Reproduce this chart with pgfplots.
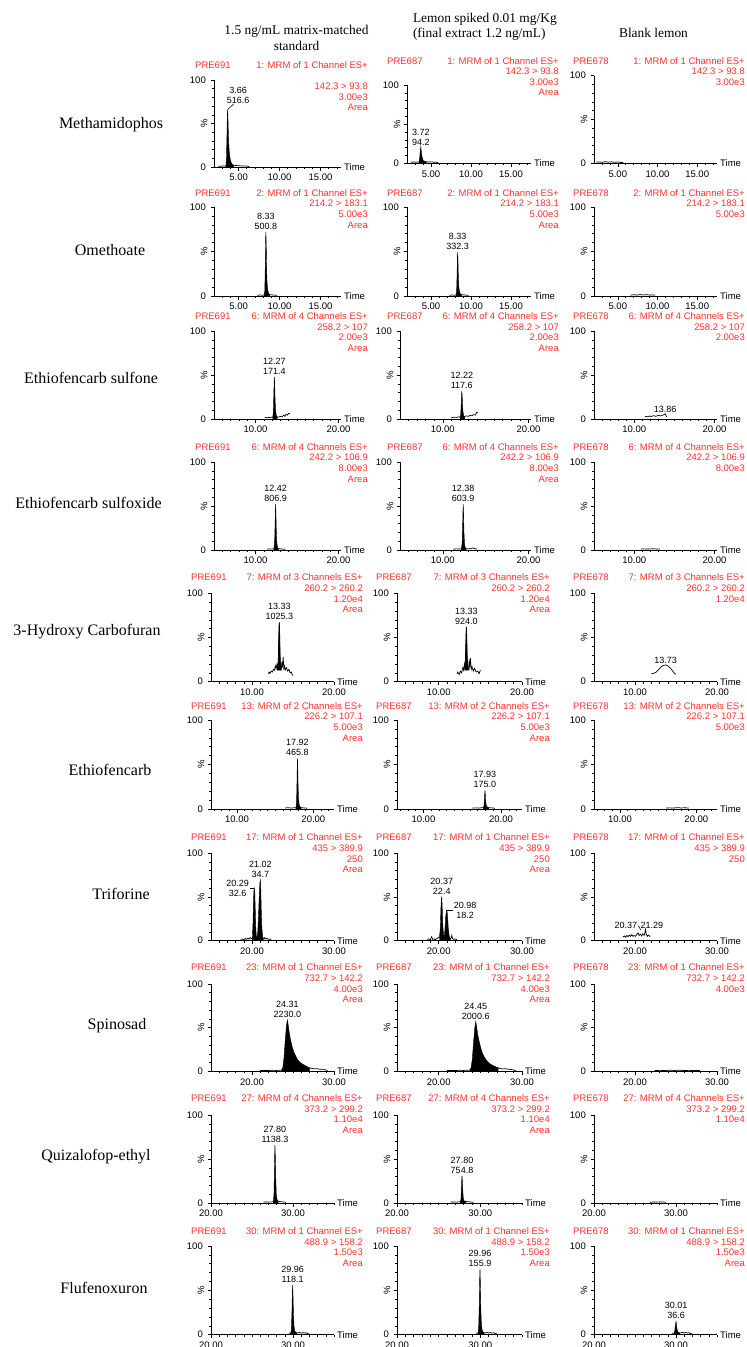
\documentclass[border=0pt]{standalone}
\usepackage{fontspec}
\setmainfont{Liberation Sans}
\newfontfamily\seriffont{Liberation Serif}
\usepackage{pgfplots}
\pgfplotsset{compat=1.18}

\definecolor{mlred}{RGB}{255,48,48}
\newcommand\cf{\fontsize{9.5}{10.6}\selectfont}
\newcommand\pf{\fontsize{9}{10}\selectfont}
\newcommand\nf{\seriffont\fontsize{16}{18}\selectfont}
\newcommand\hf{\seriffont\fontsize{13.4}{15.5}\selectfont}

\tikzset{
  hdr/.style={font=\cf, text=mlred, inner sep=0pt},
  plab/.style={font=\pf, align=center, inner sep=0.5pt},
  lead/.style={black, line width=0.5pt},
}

\pgfplotsset{
  chrom/.style={
    scale only axis, clip=false,
    axis x line*=bottom, axis y line*=left,
    axis line style={-, line width=0.8pt},
    ymin=0, ymax=100,
    ytick={0,50,100}, yticklabels={0,,100},
    minor ytick={10,20,30,40,60,70,80,90},
    tick align=outside,
    major tick length=3.5pt, minor tick length=2pt,
    every tick/.style={line width=0.6pt, black},
    tick label style={font=\cf, inner sep=0pt},
    xticklabel style={yshift=-3.6pt},
    yticklabel style={xshift=-4.5pt},
    extra description/.code={
      \node[font=\cf, rotate=90, inner sep=0pt] at ([xshift=-10pt]rel axis cs:0,0.5) {\%};
      \node[font=\cf, anchor=base west, inner sep=0pt] at ([xshift=3pt,yshift=-3.5pt]rel axis cs:1,0) {Time};
    },
  },
  r12/.style={xmin=2, xmax=17.5, xtick={5,10,15}, xticklabels={5.00,10.00,15.00}, minor xtick={3,...,17}},
  r34/.style={xmin=5, xmax=20.3, xtick={10,20}, xticklabels={10.00,20.00}, minor xtick={6,...,19}},
  r5/.style={xmin=5, xmax=20, xtick={10,20}, xticklabels={10.00,20.00}, minor xtick={6,...,19}},
  r6/.style={xmin=6.6, xmax=22.7, xtick={10,20}, xticklabels={10.00,20.00}, minor xtick={7,...,22}},
  r78/.style={xmin=15, xmax=30, xtick={20,30}, xticklabels={20.00,30.00}, minor xtick={16,...,29}},
  r910/.style={xmin=20, xmax=35, xtick={20,30}, xticklabels={20.00,30.00}, minor xtick={21,...,35}},
  trace/.style={black, line width=0.7pt, mark=none},
  peak/.style={black, fill=black, line width=0.4pt, mark=none},
}

% red acquisition header above a chromatogram
\newcommand\Hdr[9]{%
  \node[hdr, anchor=base west] at (#1,{-(#3+3.4)}) {#5};
  \node[hdr, anchor=base east] at (#2,{-(#3+3.4)}) {#6};
  \node[hdr, anchor=base east] at (#2,{-(#4+3.4)}) {#7};
  \node[hdr, anchor=base east] at (#2,{-(#4+14.0)}) {#8};
  \node[hdr, anchor=base east] at (#2,{-(#4+24.6)}) {#9};
}

% one chromatogram: left x, right x, y of 100 %, y of 0 %, x options, plots
\newcommand\Panel[6]{%
  \pgfmathsetmacro\pw{#2-#1}\pgfmathsetmacro\ph{#4-#3}%
  \begin{axis}[chrom,#5,at={(#1pt,-#4pt)},anchor=south west,width=\pw pt,height=\ph pt]
  #6
  \end{axis}}

\begin{document}
\begin{tikzpicture}[x=1pt,y=1pt]
\path[use as bounding box] (0,0) rectangle (747,-1347);

% column headings
\node[font=\hf, anchor=base] at (296.5,-34.4) {1.5 ng/mL matrix-matched};
\node[font=\hf, anchor=base] at (296.5,-50) {standard};
\node[font=\hf, anchor=base west] at (409.5,-22.7) {Lemon spiked 0.01 mg/Kg};
\node[font=\hf, anchor=base west] at (409.5,-37.7) {(final extract 1.2 ng/mL)};
\node[font=\hf, anchor=base] at (653.5,-37.7) {Blank lemon};

% compound names
\node[font=\nf] at (111,-125) {Methamidophos};
\node[font=\nf] at (110,-250) {Omethoate};
\node[font=\nf] at (91,-378) {Ethiofencarb sulfone};
\node[font=\nf] at (88.5,-503) {Ethiofencarb sulfoxide};
\node[font=\nf] at (87,-632) {3-Hydroxy Carbofuran};
\node[font=\nf] at (110,-770) {Ethiofencarb};
\node[font=\nf] at (121,-894) {Triforine};
\node[font=\nf] at (117,-1026) {Spinosad};
\node[font=\nf] at (96,-1157) {Quizalofop-ethyl};
\node[font=\nf] at (104,-1288) {Flufenoxuron};

% ---------------- Methamidophos
\Hdr{195}{368}{65}{86}{PRE691}{1: MRM of 1 Channel ES+}{142.3 > 93.8}{3.00e3}{Area}
\Hdr{387}{559}{61}{71}{PRE687}{1: MRM of 1 Channel ES+}{142.3 > 93.8}{3.00e3}{Area}
\Hdr{573}{745}{61}{71}{PRE678}{1: MRM of 1 Channel ES+}{142.3 > 93.8}{3.00e3}{}
\Panel{214}{341}{80}{167}{r12}{
  \addplot[trace] coordinates {(2.5,1.0)(2.8,0.8)(3.1,1.2)(3.3,1.0)(3.45,1.2)(4.4,2)(4.7,1.7)(5.0,1.5)(5.4,1.2)(5.8,1.3)(6.1,0.9)(6.3,0.5)};
  \addplot[peak] coordinates {(3.45,1.2)(3.52,10)(3.58,35)(3.63,62)(3.66,66)(3.70,58)(3.75,40)(3.80,27)(3.86,18)(3.93,12)(4.0,8)(4.1,5)(4.25,3)(4.4,2)} \closedcycle;
  \draw[lead] (axis cs:3.66,66) -- (axis cs:4.4,72.5);
  \node[plab, anchor=south] at (axis cs:4.95,72.5) {3.66\\516.6};
}
\Panel{407}{531}{85}{163.3}{r12}{
  \addplot[trace] coordinates {(2.5,1.6)(2.7,1.2)(2.9,1.8)(3.1,1.3)(3.3,1.7)(3.5,1.5)(4.4,2)(4.7,1.6)(5.0,1.9)(5.3,1.4)(5.6,1.5)(5.9,0.8)};
  \addplot[peak] coordinates {(3.5,1.5)(3.58,6)(3.65,15)(3.72,21)(3.78,16)(3.85,10)(3.93,6)(4.05,3.5)(4.2,2.5)(4.4,2)} \closedcycle;
  \node[plab, anchor=south] at (axis cs:3.72,22) {3.72\\94.2};
}
\Panel{594}{717}{75.7}{163.3}{r12}{
  \addplot[trace] coordinates {(2.3,1.2)(2.7,1.6)(3.0,1.1)(3.4,1.8)(3.8,1.3)(4.2,1.7)(4.6,1.1)(5.0,1.5)(5.4,0.9)(5.7,1.1)};
}

% ---------------- Omethoate
\Hdr{195}{368}{193}{203.5}{PRE691}{2: MRM of 1 Channel ES+}{214.2 > 183.1}{5.00e3}{Area}
\Hdr{387}{559}{193}{203.5}{PRE687}{2: MRM of 1 Channel ES+}{214.2 > 183.1}{5.00e3}{Area}
\Hdr{573}{745}{193}{203.5}{PRE678}{2: MRM of 1 Channel ES+}{214.2 > 183.1}{5.00e3}{}
\Panel{214}{341}{207}{296}{r12}{
  \addplot[trace] coordinates {(7.3,0.8)(7.6,1.1)(7.9,0.9)(8.12,1.2)(8.8,1.5)(9.1,1.2)(9.4,1.0)(9.7,0.7)};
  \addplot[peak] coordinates {(8.12,1.2)(8.2,6)(8.26,35)(8.30,65)(8.33,72)(8.37,60)(8.42,30)(8.48,14)(8.56,7)(8.66,3)(8.8,1.5)} \closedcycle;
  \node[plab, anchor=south] at (axis cs:8.33,74) {8.33\\500.8};
}
\Panel{407}{531}{207}{296}{r12}{
  \addplot[trace] coordinates {(7.3,0.8)(7.6,1.1)(7.9,0.9)(8.12,1.2)(8.8,1.5)(9.1,1.2)(9.4,1.0)(9.7,0.7)};
  \addplot[peak] coordinates {(8.12,1.2)(8.2,4.5)(8.26,24)(8.30,44)(8.33,49)(8.37,41)(8.42,21)(8.48,10)(8.56,5)(8.66,2.5)(8.8,1.5)} \closedcycle;
  \node[plab, anchor=south] at (axis cs:8.33,51) {8.33\\332.3};
}
\Panel{594}{717}{207}{296}{r12}{
  \addplot[trace] coordinates {(6.6,1.0)(7.0,1.4)(7.4,1.1)(7.8,1.6)(8.2,1.2)(8.6,1.5)(9.0,1.1)(9.4,1.3)(9.7,0.9)};
}

% ---------------- Ethiofencarb sulfone
\Hdr{195}{368}{316}{326.7}{PRE691}{6: MRM of 4 Channels ES+}{258.2 > 107}{2.00e3}{Area}
\Hdr{387}{559}{316}{326.7}{PRE687}{6: MRM of 4 Channels ES+}{258.2 > 107}{2.00e3}{Area}
\Hdr{573}{745}{316}{326.7}{PRE678}{6: MRM of 4 Channels ES+}{258.2 > 107}{2.00e3}{}
\Panel{214}{341}{331}{419}{r34}{
  \addplot[trace] coordinates {(11.1,1.5)(11.4,2)(11.7,1.6)(12.0,2.2)(12.08,2)(12.6,2.5)(12.8,2.2)(13.0,3)(13.2,2.4)(13.4,4.5)(13.55,3)(13.7,5.5)(13.85,4.5)(14.0,6.5)(14.15,6)};
  \addplot[peak] coordinates {(12.08,2)(12.15,8)(12.2,25)(12.24,42)(12.27,48)(12.31,40)(12.36,22)(12.42,10)(12.5,4)(12.6,2.5)} \closedcycle;
  \node[plab, anchor=south] at (axis cs:12.27,50) {12.27\\171.4};
}
\Panel{400}{531}{331}{419}{r34}{
  \addplot[trace] coordinates {(11.0,1.5)(11.3,2)(11.6,1.8)(11.9,2.6)(12.03,2)(12.55,3)(12.8,3.5)(13.0,3)(13.2,4.2)(13.4,3.6)(13.6,5)(13.8,4.4)(13.95,7.5)(14.1,7)};
  \addplot[peak] coordinates {(12.03,2)(12.1,6)(12.15,17)(12.19,28)(12.22,32)(12.26,27)(12.31,15)(12.37,7)(12.45,3.5)(12.55,3)} \closedcycle;
  \node[plab, anchor=south] at (axis cs:12.22,34) {12.22\\117.6};
}
\Panel{594}{717}{331}{419}{r34}{
  \addplot[trace] coordinates {(11.3,2.2)(11.5,3)(11.7,2.5)(11.9,3.5)(12.1,2.8)(12.4,3.8)(12.7,3)(13.0,4.2)(13.3,3.5)(13.6,4.5)(13.86,6)(13.95,4)(14.05,2.5)};
  \node[plab, anchor=south] at (axis cs:13.86,6.5) {13.86};
}

% ---------------- Ethiofencarb sulfoxide
\Hdr{195}{368}{447}{457.5}{PRE691}{6: MRM of 4 Channels ES+}{242.2 > 106.9}{8.00e3}{Area}
\Hdr{387}{559}{447}{457.5}{PRE687}{6: MRM of 4 Channels ES+}{242.2 > 106.9}{8.00e3}{Area}
\Hdr{573}{745}{447}{457.5}{PRE678}{6: MRM of 4 Channels ES+}{242.2 > 106.9}{8.00e3}{}
\Panel{214}{341}{462}{550}{r34}{
  \addplot[trace] coordinates {(11.4,1)(11.8,1.3)(12.1,1.1)(12.22,1.5)(12.75,1.5)(13.0,1.3)(13.3,1.0)(13.6,0.8)};
  \addplot[peak] coordinates {(12.22,1.5)(12.3,8)(12.36,30)(12.40,48)(12.42,52)(12.46,42)(12.51,20)(12.57,8)(12.65,3)(12.75,1.5)} \closedcycle;
  \node[plab, anchor=south] at (axis cs:12.42,54) {12.42\\806.9};
}
\Panel{400}{531}{462}{550}{r34}{
  \addplot[trace] coordinates {(11.2,1)(11.6,1.3)(11.9,1.1)(12.18,1.5)(12.71,1.5)(13.0,1.4)(13.3,1.6)(13.5,2.4)(13.7,1.6)(14.0,1.0)};
  \addplot[peak] coordinates {(12.18,1.5)(12.26,8)(12.32,30)(12.36,48)(12.38,52)(12.42,42)(12.47,20)(12.53,8)(12.61,3)(12.71,1.5)} \closedcycle;
  \node[plab, anchor=south] at (axis cs:12.38,54) {12.38\\603.9};
}
\Panel{594}{717}{462}{550}{r34}{
  \addplot[trace] coordinates {(10.8,1)(11.3,1.3)(11.8,1.1)(12.3,1.4)(12.8,1.2)(13.2,1.0)};
}

% ---------------- 3-Hydroxy Carbofuran
\Hdr{191}{363}{577.3}{588.3}{PRE691}{7: MRM of 3 Channels ES+}{260.2 > 260.2}{1.20e4}{Area}
\Hdr{376}{550}{577.3}{588.3}{PRE687}{7: MRM of 3 Channels ES+}{260.2 > 260.2}{1.20e4}{Area}
\Hdr{573}{745}{577.3}{588.3}{PRE678}{7: MRM of 3 Channels ES+}{260.2 > 260.2}{1.20e4}{}
\Panel{211}{334}{593.3}{681.7}{r5}{
  \addplot[peak] coordinates {(13.05,13)(13.05,20)(13.12,16)(13.15,14)(13.2,22)(13.26,45)(13.3,62)(13.33,67)(13.37,55)(13.42,30)(13.47,18)(13.52,14)(13.58,16)(13.58,13)} -- cycle;
  \addplot[trace] coordinates {(12.0,9)(12.1,11)(12.2,9.5)(12.35,12)(12.5,11)(12.6,14)(12.75,13)(12.85,18)(12.95,15)(13.05,20)(13.12,16)(13.15,14)(13.2,22)(13.26,45)(13.3,62)(13.33,67)(13.37,55)(13.42,30)(13.47,18)(13.52,14)(13.58,16)(13.64,22)(13.7,16)(13.8,28)(13.88,15)(13.95,18)(14.05,13)(14.2,16)(14.35,12)(14.5,14)(14.65,10)(14.8,11)(14.9,8)(15.0,7)};
  \node[plab, anchor=south] at (axis cs:13.33,69) {13.33\\1025.3};
}
\Panel{397}{522}{593.3}{681.7}{r5}{
  \addplot[peak] coordinates {(13.1,13)(13.1,20)(13.16,15)(13.2,21)(13.26,42)(13.3,57)(13.33,62)(13.37,50)(13.42,28)(13.47,17)(13.52,14)(13.58,15)(13.58,13)} -- cycle;
  \addplot[trace] coordinates {(12.2,9)(12.3,11)(12.45,8)(12.6,12)(12.75,10)(12.9,16)(13.0,13)(13.1,20)(13.16,15)(13.2,21)(13.26,42)(13.3,57)(13.33,62)(13.37,50)(13.42,28)(13.47,17)(13.52,14)(13.58,15)(13.65,22)(13.72,17)(13.8,27)(13.9,14)(14.0,17)(14.15,12)(14.3,15)(14.5,11)(14.7,12)(14.85,9)(15.0,13)};
  \node[plab, anchor=south] at (axis cs:13.33,64) {13.33\\924.0};
}
\Panel{594}{717}{593.3}{681.7}{r5}{
  \addplot[trace, smooth] coordinates {(12.0,9)(12.3,9.5)(12.6,11)(12.9,14)(13.2,17)(13.5,18.5)(13.73,19)(14.0,18)(14.3,15.5)(14.6,12)(14.8,9.5)(15.0,8.5)};
  \node[plab, anchor=south] at (axis cs:13.73,20) {13.73};
}

% ---------------- Ethiofencarb
\Hdr{191}{363}{706}{716.5}{PRE691}{13: MRM of 2 Channels ES+}{226.2 > 107.1}{5.00e3}{Area}
\Hdr{376}{550}{706}{716.5}{PRE687}{13: MRM of 2 Channels ES+}{226.2 > 107.1}{5.00e3}{Area}
\Hdr{573}{745}{706}{716.5}{PRE678}{13: MRM of 2 Channels ES+}{226.2 > 107.1}{5.00e3}{}
\Panel{211}{334}{720}{809}{r6}{
  \addplot[trace] coordinates {(16.3,1.2)(16.7,1.4)(17.1,1.1)(17.5,1.4)(17.72,1.5)(18.4,1.5)(18.7,1.3)(19.0,1.1)(19.2,0.8)};
  \addplot[peak] coordinates {(17.72,1.5)(17.8,8)(17.86,32)(17.9,52)(17.92,57)(17.96,45)(18.0,25)(18.06,12)(18.14,5)(18.25,2.5)(18.4,1.5)} \closedcycle;
  \node[plab, anchor=south] at (axis cs:17.92,59) {17.92\\465.8};
}
\Panel{397}{522}{720}{809}{r6}{
  \addplot[trace] coordinates {(16.3,1.0)(16.7,1.3)(17.1,1.1)(17.5,1.4)(17.73,1.5)(18.4,1.5)(18.7,1.3)(19.0,1.1)(19.2,0.8)};
  \addplot[peak] coordinates {(17.73,1.5)(17.81,4)(17.87,12)(17.91,19)(17.93,21)(17.97,17)(18.01,10)(18.07,5)(18.15,3)(18.26,2)(18.4,1.5)} \closedcycle;
  \node[plab, anchor=south] at (axis cs:17.93,23) {17.93\\175.0};
}
\Panel{594}{717}{720}{809}{r6}{
  \addplot[trace] coordinates {(16.0,1.0)(16.5,1.3)(17.0,1.1)(17.5,1.5)(18.0,1.2)(18.5,1.4)(19.0,1.0)};
}

% ---------------- Triforine
\Hdr{191}{363}{837.3}{848}{PRE691}{17: MRM of 1 Channel ES+}{435 > 389.9}{250}{Area}
\Hdr{376}{550}{837.3}{848}{PRE687}{17: MRM of 1 Channel ES+}{435 > 389.9}{250}{Area}
\Hdr{573}{745}{837.3}{848}{PRE678}{17: MRM of 1 Channel ES+}{435 > 389.9}{250}{}
\Panel{211}{334}{853.3}{940.7}{r78}{
  \addplot[peak] coordinates {(20.05,3)(20.12,20)(20.18,45)(20.24,58)(20.29,60)(20.34,55)(20.4,35)(20.46,15)(20.52,6)(20.58,4)(20.62,4)(20.7,10)(20.8,30)(20.9,55)(20.97,67)(21.02,69.5)(21.07,60)(21.13,35)(21.2,15)(21.28,6)(21.35,3)} \closedcycle;
  \addplot[trace] coordinates {(18.6,1.5)(18.8,2)(19.0,1.2)(19.2,2.5)(19.35,1.5)(19.5,3)(19.65,1.8)(19.8,3.5)(19.95,2.5)(20.05,3)(21.35,3)(21.45,2)(21.55,3.5)(21.65,2)(21.8,2.8)(22.0,1.5)(22.2,2)(22.35,1.2)};
  \node[plab, anchor=south] at (axis cs:21.02,71) {21.02\\34.7};
  \draw[lead] (axis cs:20.29,60) -- (axis cs:19.7,60);
  \node[plab, anchor=east] at (axis cs:19.7,60) {20.29\\32.6};
}
\Panel{397}{522}{853.3}{940.7}{r78}{
  \addplot[peak] coordinates {(20.1,4)(20.2,15)(20.28,40)(20.34,49)(20.37,50)(20.42,40)(20.5,18)(20.58,7)(20.66,5)(20.75,12)(20.85,28)(20.93,34)(20.98,35)(21.05,30)(21.15,15)(21.25,6)(21.35,3)(21.42,2.5)} \closedcycle;
  \addplot[trace] coordinates {(18.6,1.5)(18.8,2)(19.0,1.2)(19.15,4.5)(19.3,1.5)(19.45,2)(19.6,1)(19.75,2.5)(19.9,3)(20.05,4)(20.1,4)(21.42,2.5)(21.5,3)(21.58,6)(21.66,2.5)(21.8,1.5)(22.0,2)(22.2,1)};
  \node[plab, anchor=south] at (axis cs:20.37,52) {20.37\\22.4};
  \draw[lead] (axis cs:20.98,35) -- (axis cs:21.75,35);
  \node[plab, anchor=west] at (axis cs:21.75,35) {20.98\\18.2};
}
\Panel{594}{717}{853.3}{940.7}{r78}{
  \addplot[trace] coordinates {(18.5,4)(18.7,5.5)(18.85,4)(19.0,6)(19.15,4.5)(19.3,6.5)(19.45,5)(19.6,7)(19.75,5)(19.9,6)(20.05,5)(20.2,7)(20.37,9)(20.5,6)(20.65,7.5)(20.8,5.5)(20.95,8)(21.1,6)(21.2,9)(21.29,13)(21.38,7)(21.5,5)(21.6,6.5)(21.75,5)(21.9,5.5)};
  \node[plab, anchor=east] at (axis cs:20.35,18) {20.37};
  \node[plab, anchor=west] at (axis cs:20.6,18) {21.29};
  \draw[lead] (axis cs:20.4,17) -- (axis cs:20.75,12);
}

% ---------------- Spinosad
\Hdr{191}{363}{967.3}{978}{PRE691}{23: MRM of 1 Channel ES+}{732.7 > 142.2}{4.00e3}{Area}
\Hdr{376}{550}{967.3}{978}{PRE687}{23: MRM of 1 Channel ES+}{732.7 > 142.2}{4.00e3}{Area}
\Hdr{573}{745}{967.3}{978}{PRE678}{23: MRM of 1 Channel ES+}{732.7 > 142.2}{4.00e3}{}
\Panel{211}{334}{984}{1071.3}{r78}{
  \addplot[trace] coordinates {(21.0,0.8)(21.5,1.0)(22.0,0.9)(22.5,1.2)(23.0,1.0)(23.4,1.3)(23.6,1.5)};
  \addplot[peak] coordinates {(23.6,1.5)(23.75,4)(23.9,15)(24.05,35)(24.2,52)(24.31,59)(24.4,54)(24.55,44)(24.7,36)(24.9,28)(25.1,22)(25.35,17)(25.6,13)(25.9,10)(26.2,8)(26.5,6.5)(26.8,5)(27.0,4)} \closedcycle;
  \addplot[trace] coordinates {(27.0,4)(27.3,3.3)(27.6,2.8)(27.9,3)(28.2,2.5)(28.5,2.3)(28.8,2.2)(29.0,1.5)(29.2,0.6)};
  \node[plab, anchor=south] at (axis cs:24.31,61) {24.31\\2230.0};
}
\Panel{397}{522}{984}{1071.3}{r78}{
  \addplot[trace] coordinates {(21.0,0.8)(21.5,1.0)(22.0,0.9)(22.5,1.2)(23.0,1.0)(23.5,1.3)(23.74,1.5)};
  \addplot[peak] coordinates {(23.74,1.5)(23.89,4)(24.04,14)(24.19,34)(24.34,50)(24.45,57)(24.54,52)(24.69,42)(24.84,35)(25.04,27)(25.24,21)(25.49,16)(25.74,12.5)(26.04,9.5)(26.34,7.5)(26.64,6)(26.94,4.8)(27.14,4)} \closedcycle;
  \addplot[trace] coordinates {(27.14,4)(27.4,3.2)(27.7,2.7)(28.0,3)(28.3,2.4)(28.6,2.2)(28.9,1.8)(29.1,1.2)(29.3,0.5)};
  \node[plab, anchor=south] at (axis cs:24.45,59) {24.45\\2000.6};
}
\Panel{594}{717}{984}{1071.3}{r78}{
  \addplot[trace] coordinates {(22.4,0.8)(23.0,1.1)(23.6,0.9)(24.2,1.3)(24.8,1.0)(25.4,1.2)(26.0,0.9)(26.6,1.1)(27.2,0.8)(27.9,1.0)};
}

% ---------------- Quizalofop-ethyl
\Hdr{191}{363}{1098}{1108.6}{PRE691}{27: MRM of 4 Channels ES+}{373.2 > 299.2}{1.10e4}{Area}
\Hdr{376}{550}{1098}{1108.6}{PRE687}{27: MRM of 4 Channels ES+}{373.2 > 299.2}{1.10e4}{Area}
\Hdr{573}{745}{1098}{1108.6}{PRE678}{27: MRM of 4 Channels ES+}{373.2 > 299.2}{1.10e4}{}
\Panel{211}{334}{1115}{1203}{r910}{
  \addplot[trace] coordinates {(26.4,1.0)(26.8,1.2)(27.2,1.0)(27.5,1.4)(27.6,1.5)(28.2,2)(28.5,1.5)(28.8,1.2)(29.2,0.9)};
  \addplot[peak] coordinates {(27.6,1.5)(27.68,10)(27.74,40)(27.78,62)(27.80,66)(27.84,55)(27.9,28)(27.96,10)(28.05,4)(28.2,2)} \closedcycle;
  \node[plab, anchor=south] at (axis cs:27.80,68) {27.80\\1138.3};
}
\Panel{397}{522}{1115}{1203}{r910}{
  \addplot[trace] coordinates {(26.4,1.0)(26.8,1.2)(27.2,1.0)(27.5,1.4)(27.6,1.5)(28.2,1.8)(28.5,1.5)(28.8,1.2)(29.2,0.9)};
  \addplot[peak] coordinates {(27.6,1.5)(27.68,5)(27.74,19)(27.78,29)(27.80,31)(27.84,26)(27.9,13)(27.96,5)(28.05,2.5)(28.2,1.8)} \closedcycle;
  \node[plab, anchor=south] at (axis cs:27.80,33) {27.80\\754.8};
}
\Panel{594}{717}{1115}{1203}{r910}{
  \addplot[trace] coordinates {(26.8,0.8)(27.3,1.2)(27.8,1.0)(28.3,1.3)(28.8,0.9)};
}

% ---------------- Flufenoxuron
\Hdr{191}{363}{1231}{1241.7}{PRE691}{30: MRM of 1 Channel ES+}{488.9 > 158.2}{1.50e3}{Area}
\Hdr{376}{550}{1231}{1241.7}{PRE687}{30: MRM of 1 Channel ES+}{488.9 > 158.2}{1.50e3}{Area}
\Hdr{573}{745}{1231}{1241.7}{PRE678}{30: MRM of 1 Channel ES+}{488.9 > 158.2}{1.50e3}{Area}
\Panel{211}{334}{1246}{1334.7}{r910}{
  \addplot[trace] coordinates {(29.5,1.5)(29.6,2)(29.72,1.5)(30.45,2)(30.6,2)(30.8,2.5)(31.0,1.8)(31.2,2.4)(31.4,1.8)(31.6,2.2)(31.8,1.2)(32.0,1.0)};
  \addplot[peak] coordinates {(29.72,1.5)(29.8,6)(29.87,25)(29.92,48)(29.96,56)(30.0,45)(30.06,22)(30.12,10)(30.2,5)(30.3,3)(30.45,2)} \closedcycle;
  \node[plab, anchor=south] at (axis cs:29.96,58) {29.96\\118.1};
}
\Panel{397}{522}{1246}{1334.7}{r910}{
  \addplot[trace] coordinates {(29.5,1.5)(29.6,2)(29.72,1.5)(30.45,2)(30.6,2)(30.8,2.5)(31.0,1.8)(31.2,2.4)(31.4,1.8)(31.6,2.2)(31.8,1.2)(32.0,1.0)};
  \addplot[peak] coordinates {(29.72,1.5)(29.8,8)(29.87,33)(29.92,63)(29.96,74)(30.0,60)(30.06,29)(30.12,13)(30.2,6)(30.3,3.5)(30.45,2)} \closedcycle;
  \node[plab, anchor=south] at (axis cs:29.96,76) {29.96\\155.9};
}
\Panel{594}{717}{1246}{1334.7}{r910}{
  \addplot[trace] coordinates {(29.5,1.5)(29.65,2)(29.78,1.5)(30.45,2)(30.6,2.2)(30.8,2.6)(31.0,1.9)(31.2,2.5)(31.4,1.8)(31.6,2.2)(31.8,1.2)(32.0,1.0)};
  \addplot[peak] coordinates {(29.78,1.5)(29.86,5)(29.93,11)(29.98,14)(30.01,15)(30.05,12)(30.11,7)(30.18,4)(30.28,2.5)(30.45,2)} \closedcycle;
  \node[plab, anchor=south] at (axis cs:30.01,17) {30.01\\36.6};
}

\end{tikzpicture}
\end{document}
